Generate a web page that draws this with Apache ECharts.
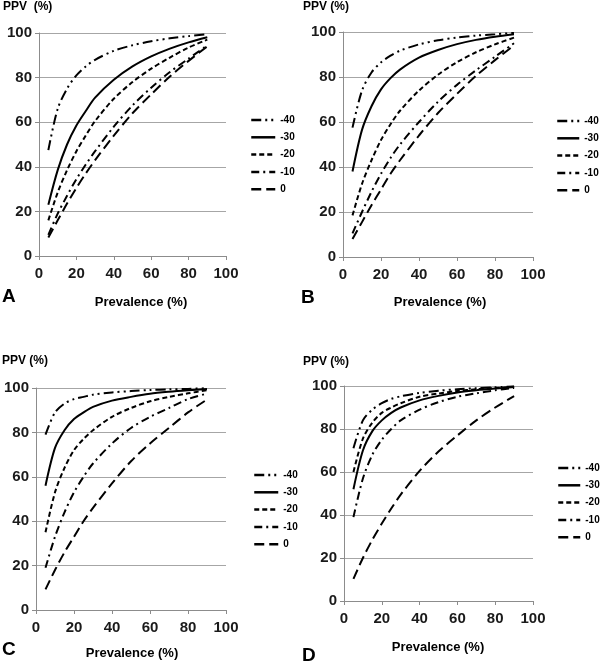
<!DOCTYPE html>
<html>
<head>
<meta charset="utf-8">
<script src="https://cdn.jsdelivr.net/npm/echarts@6/dist/echarts.min.js"></script>
<style>
html,body{margin:0;padding:0;background:#fff;}
#c{width:600px;height:663px;}
</style>
</head>
<body>
<div id="c"></div>
<script>
// Prevalence (%) sample points
const prevalence = [5, 10, 15, 20, 25, 30, 40, 50, 60, 70, 80, 90];
const seriesNames = ['-40', '-30', '-20', '-10', '0'];
const xTicks = [0, 20, 40, 60, 80, 100];
const yTicks = [0, 20, 40, 60, 80, 100];
const panelLetters = ['A', 'B', 'C', 'D'];

// PPV (%) values, per panel, per series
const panelA_m40 = [47.5, 66, 75, 81, 85, 88, 92, 94.5, 96.3, 97.6, 98.6, 99.4];
const panelA_m30 = [23, 38.5, 50, 58.5, 65, 71, 79, 85, 89.5, 93, 95.8, 98.1];
const panelA_m20 = [16, 28.5, 38.5, 47, 54, 60.5, 70.5, 78, 84, 89, 93.5, 97];
const panelA_m10 = [9.5, 19, 27, 34.5, 41, 47, 58, 67.5, 75.5, 82.5, 88.5, 94.5];
const panelA_0 = [8.3, 16, 23.5, 30.5, 37, 43, 54, 64, 72.5, 80.5, 87.5, 94];

const panelB_m40 = [57.5, 74, 82, 86.5, 89.5, 91.7, 94.5, 96.3, 97.5, 98.4, 99, 99.6];
const panelB_m30 = [38, 56.5, 67, 74.5, 79.5, 83.3, 88.6, 92, 94.6, 96.5, 97.9, 99];
const panelB_m20 = [18.5, 32.5, 43, 52, 59, 65, 74, 81, 86.6, 91, 94.5, 97.5];
const panelB_m10 = [10.5, 20, 29, 37, 44, 50, 60, 69, 76.5, 83, 89, 95];
const panelB_0 = [8, 15.5, 23, 30, 37, 43, 54, 64, 72.5, 80.5, 87.5, 94];

const panelC_m40 = [79, 89, 93, 95, 96, 97, 98, 98.6, 99.1, 99.4, 99.6, 99.9];
const panelC_m30 = [56, 73, 81, 86, 89, 91.5, 94.3, 96, 97.4, 98.3, 99, 99.6];
const panelC_m20 = [35, 53, 64, 72, 77, 81, 87, 91, 94, 96, 97.6, 99];
const panelC_m10 = [19, 33, 44, 53, 60, 66, 75, 82, 87, 91, 95, 97.5];
const panelC_0 = [9.3, 18, 26, 33, 40, 46, 57, 67, 75, 82, 89, 94.8];

const panelD_m40 = [71, 84, 89, 92, 94, 95.2, 96.8, 97.8, 98.5, 99, 99.4, 99.8];
const panelD_m30 = [52, 70, 79, 84, 87.5, 90, 93.3, 95.4, 97, 98, 98.8, 99.5];
const panelD_m20 = [60, 75.5, 83, 87.5, 90, 92, 95, 96.5, 97.7, 98.5, 99.1, 99.6];
const panelD_m10 = [39, 57, 68, 75, 80, 84, 89, 92.5, 95, 96.6, 98, 99.1];
const panelD_0 = [10.3, 20, 28.5, 36, 43, 49.5, 60.5, 69.5, 77, 84, 90, 95.3];

const panels = [
  [panelA_m40, panelA_m30, panelA_m20, panelA_m10, panelA_0],
  [panelB_m40, panelB_m30, panelB_m20, panelB_m10, panelB_0],
  [panelC_m40, panelC_m30, panelC_m20, panelC_m10, panelC_0],
  [panelD_m40, panelD_m30, panelD_m20, panelD_m10, panelD_0]
];

// layout (pixels)
const grids = [
  {left: 39, top: 33, width: 187, height: 223},
  {left: 343, top: 32, width: 190, height: 225},
  {left: 36, top: 388, width: 190, height: 222},
  {left: 344, top: 386, width: 189, height: 215}
];
const legendPos = [
  {left: 250, top: 115, w: 24},
  {left: 556, top: 116, w: 22},
  {left: 253, top: 470, w: 24},
  {left: 557, top: 463, w: 22}
];
const dashTypes = [
  [10, 4, 2, 4, 2, 4],
  'solid',
  [5, 3],
  [8, 4, 2, 4],
  [10, 5]
];
const ppvLabelPos = [[3, 8, 'PPV  (%)'], [303, 8, 'PPV (%)'], [2, 362, 'PPV (%)'], [303, 363, 'PPV (%)']];
const prevLabelPos = [[141, 302], [440, 302], [132, 653], [438, 647]];
const letterPos = [[2, 297], [301, 298], [2, 650], [302, 656]];

const font = 'Liberation Sans, Arial, sans-serif';
const xAxes = [], yAxes = [], series = [], legends = [], graphics = [];

grids.forEach((g, i) => {
  xAxes.push({
    type: 'value', gridIndex: i, min: 0, max: 100, interval: 20,
    axisLine: {show: true, lineStyle: {color: '#8c8c8c', width: 1}},
    axisTick: {show: true, length: 4, lineStyle: {color: '#8c8c8c'}},
    splitLine: {show: false},
    axisLabel: {fontSize: 15, fontWeight: 'bold', color: '#1a1a1a', fontFamily: font, margin: 10,
      formatter: v => xTicks.includes(v) ? String(v) : ''}
  });
  yAxes.push({
    type: 'value', gridIndex: i, min: 0, max: 100, interval: 20,
    axisLine: {show: true, lineStyle: {color: '#8c8c8c', width: 1}},
    axisTick: {show: true, length: 4, lineStyle: {color: '#8c8c8c'}},
    splitLine: {show: true, lineStyle: {color: '#a6a6a6', width: 1.2}},
    axisLabel: {fontSize: 15, fontWeight: 'bold', color: '#1a1a1a', fontFamily: font, margin: 7,
      formatter: v => yTicks.includes(v) ? String(v) : ''}
  });
  panels[i].forEach((vals, k) => {
    series.push({
      name: seriesNames[k], type: 'line', xAxisIndex: i, yAxisIndex: i,
      data: prevalence.map((p, j) => [p, vals[j]]),
      symbol: 'none', smooth: 0.3,
      lineStyle: {color: '#000', width: 2, type: dashTypes[k]},
      itemStyle: {color: '#000'},
      silent: true, animation: false
    });
  });
  legends.push({
    left: legendPos[i].left, top: legendPos[i].top, orient: 'vertical',
    data: seriesNames, itemWidth: legendPos[i].w, itemHeight: 10, itemGap: 7.3,
    itemStyle: {opacity: 0},
    lineStyle: {width: 2.5},
    textStyle: {fontSize: 10, fontWeight: 'bold', color: '#000', fontFamily: font},
    selectedMode: false, padding: 0
  });
  graphics.push({type: 'text', left: ppvLabelPos[i][0], top: ppvLabelPos[i][1] - 7,
    style: {text: ppvLabelPos[i][2], font: 'bold 12px ' + font, fill: '#000'}});
  graphics.push({type: 'text', x: prevLabelPos[i][0], y: prevLabelPos[i][1],
    style: {text: 'Prevalence (%)', font: 'bold 13px ' + font, fill: '#000', align: 'center', verticalAlign: 'middle'}});
  graphics.push({type: 'text', x: letterPos[i][0], y: letterPos[i][1],
    style: {text: panelLetters[i], font: 'bold 19px ' + font, fill: '#000', align: 'left', verticalAlign: 'middle'}});
});

const chart = echarts.init(document.getElementById('c'), null, {renderer: 'canvas'});
chart.setOption({
  backgroundColor: '#fff',
  animation: false,
  grid: grids.map(g => Object.assign({containLabel: false}, g)),
  xAxis: xAxes,
  yAxis: yAxes,
  legend: legends,
  series: series,
  graphic: graphics
});
</script>
</body>
</html>
